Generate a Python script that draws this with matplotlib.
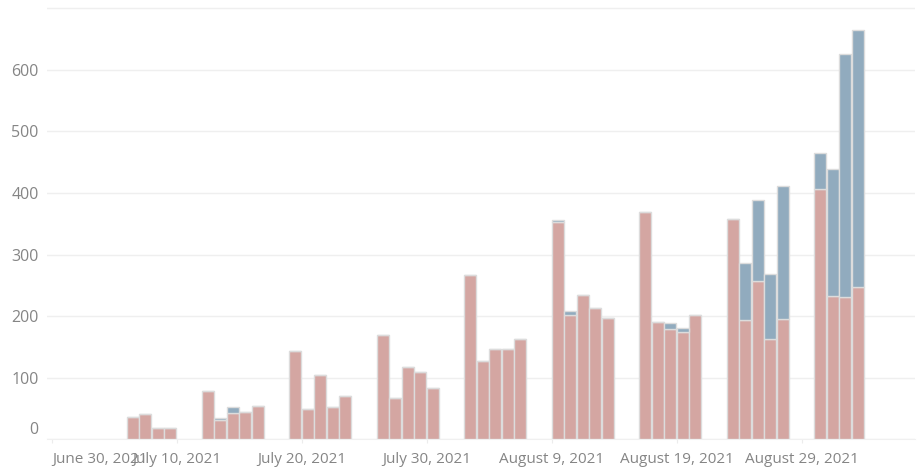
import matplotlib.pyplot as plt
import matplotlib.dates as mdates
import matplotlib.transforms as mtransforms
import datetime as dt

# working days shown in the chart
days = ['2021-07-06', '2021-07-07', '2021-07-08', '2021-07-09',
        '2021-07-12', '2021-07-13', '2021-07-14', '2021-07-15', '2021-07-16',
        '2021-07-19', '2021-07-20', '2021-07-21', '2021-07-22', '2021-07-23',
        '2021-07-26', '2021-07-27', '2021-07-28', '2021-07-29', '2021-07-30',
        '2021-08-02', '2021-08-03', '2021-08-04', '2021-08-05', '2021-08-06',
        '2021-08-09', '2021-08-10', '2021-08-11', '2021-08-12', '2021-08-13',
        '2021-08-16', '2021-08-17', '2021-08-18', '2021-08-19', '2021-08-20',
        '2021-08-23', '2021-08-24', '2021-08-25', '2021-08-26', '2021-08-27',
        '2021-08-30', '2021-08-31', '2021-09-01', '2021-09-02']

red = [37, 42, 18, 18,
       79, 32, 43, 45, 54,
       144, 49, 105, 53, 71,
       170, 67, 117, 110, 84,
       267, 127, 147, 147, 163,
       353, 202, 235, 213, 198,
       370, 191, 179, 174, 202,
       358, 194, 257, 163, 196,
       407, 233, 231, 248]

blue = [0, 0, 0, 0,
        0, 3, 10, 0, 0,
        0, 0, 0, 0, 0,
        0, 0, 0, 0, 0,
        0, 0, 0, 0, 0,
        4, 6, 0, 0, 0,
        0, 0, 10, 7, 0,
        0, 93, 132, 106, 215,
        58, 206, 394, 416]

tick_days = ['2021-06-30', '2021-07-10', '2021-07-20', '2021-07-30',
             '2021-08-09', '2021-08-19', '2021-08-29']
tick_labels = ['June 30, 2021', 'July 10, 2021', 'July 20, 2021', 'July 30, 2021',
               'August 9, 2021', 'August 19, 2021', 'August 29, 2021']

RED = '#d4a6a2'
BLUE = '#91abbe'
EDGE = '#dcdcdc'
TXT = '#858585'

plt.rcParams['font.family'] = ['Open Sans', 'DejaVu Sans']

x = [mdates.date2num(dt.date.fromisoformat(d)) for d in days]
xt = [mdates.date2num(dt.date.fromisoformat(d)) for d in tick_days]

fig = plt.figure(figsize=(9.19, 4.67), dpi=100)
ax = fig.add_axes([0.0511, 0.0589, 0.9445, 0.9366])

ax.bar(x, red, width=0.93, align='edge', color=RED, edgecolor=EDGE, linewidth=1, zorder=3)
ax.bar(x, blue, width=0.93, align='edge', bottom=red, color=BLUE, edgecolor=EDGE, linewidth=1, zorder=3)

ax.set_xlim(xt[0] - 0.4, xt[0] + 69.04)
ax.set_ylim(0, 710)

ax.set_yticks(range(0, 701, 100))
ax.set_yticklabels([str(v) if v < 700 else '' for v in range(0, 701, 100)])
ax.grid(axis='y', color='#efefef', linewidth=1, zorder=0)
ax.set_xticks(xt)
ax.set_xticklabels(tick_labels)

ax.tick_params(axis='y', length=0, pad=6, labelsize=11.5, labelcolor=TXT)
ax.tick_params(axis='x', length=3, color='#ececec', pad=6, labelsize=11, labelcolor=TXT)

for s in ['top', 'right', 'left']:
    ax.spines[s].set_visible(False)
ax.spines['bottom'].set_color('#f0f0f0')

# first date label sits at the axis start, zero label is lifted a bit
xl = ax.get_xticklabels()
xl[0].set_horizontalalignment('left')
yl = ax.get_yticklabels()
yl[0].set_transform(yl[0].get_transform() + mtransforms.ScaledTranslation(0, 11 / 100, fig.dpi_scale_trans))

fig.savefig('out.png', dpi=100)
